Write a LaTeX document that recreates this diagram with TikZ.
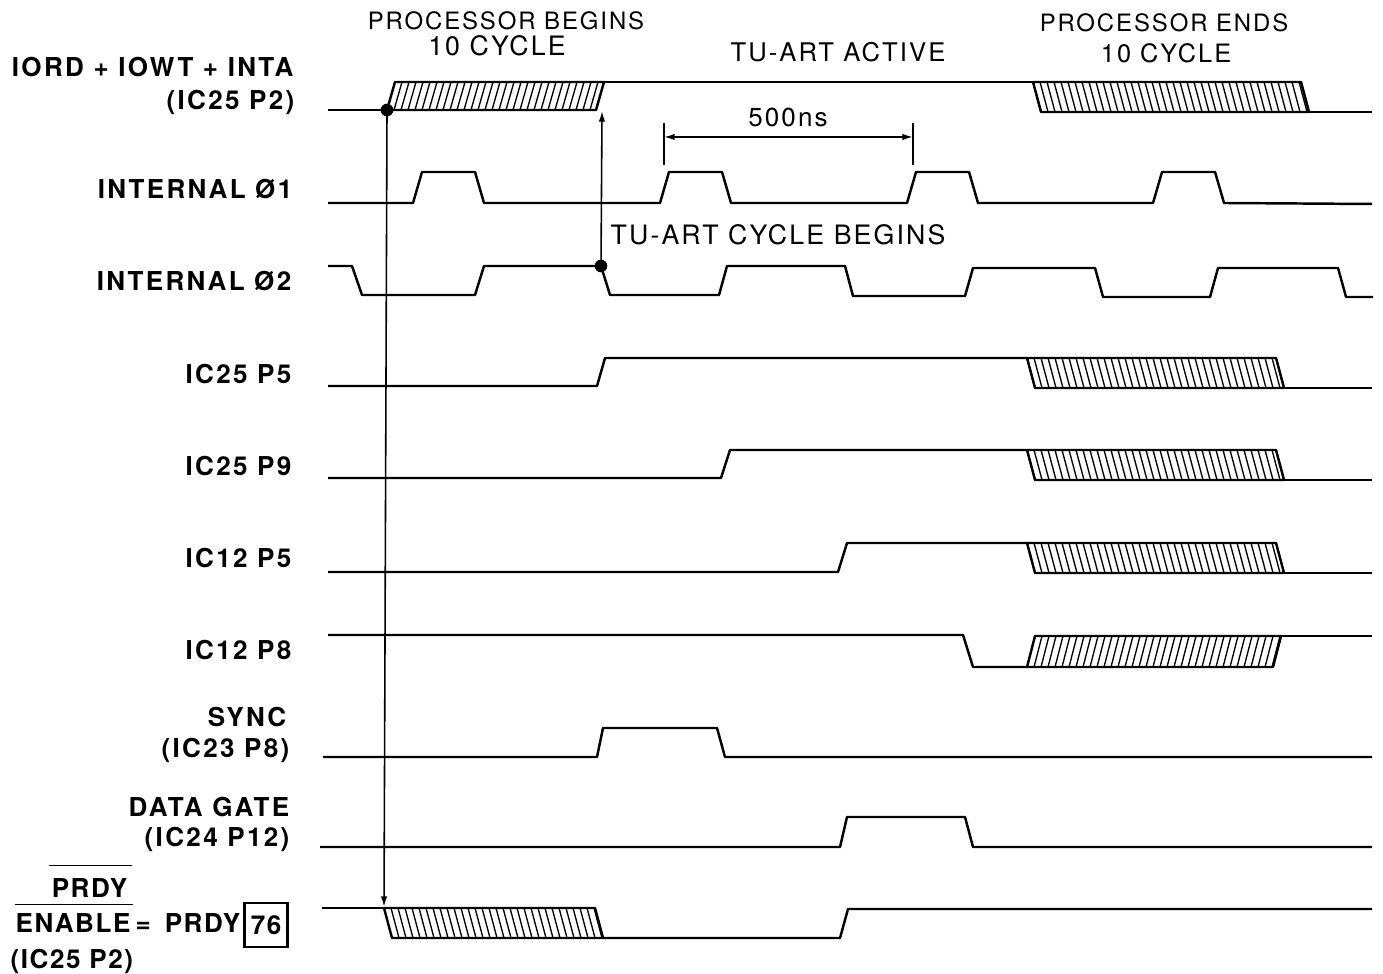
\documentclass[tikz,border=0pt]{standalone}
\usepackage{fontspec}
\setmainfont{TeX Gyre Heros}
\newfontfamily\labelfont[LetterSpace=9]{TeX Gyre Heros}
\newfontfamily\prdyfont[LetterSpace=6]{TeX Gyre Heros}
\newfontfamily\notefont[LetterSpace=8]{TeX Gyre Heros}
\usetikzlibrary{arrows.meta}

\tikzset{
  sig/.style={line width=0.7pt, line join=round},
  hatchline/.style={line width=0.38pt},
  guide/.style={line width=0.45pt},
  lbl/.style={font=\labelfont\bfseries\fontsize{7.4pt}{9pt}\selectfont, anchor=base east, inner sep=0pt},
  prdylbl/.style={font=\prdyfont\bfseries\fontsize{7.4pt}{9pt}\selectfont, anchor=base west, inner sep=0pt},
  note/.style={font=\notefont\fontsize{6.8pt}{8pt}\selectfont, anchor=base, inner sep=0pt},
  tip/.style={-{Latex[length=3pt,width=1.8pt]}}
}

% hatched slanted box: x from #1 to #2, lines run from y #3 to y #4
\newcommand{\hatchbox}[4]{%
  \draw[sig] (#1,#3) -- (#1+8,#4) -- (#2+8,#4) -- (#2,#3) -- cycle;
  \pgfmathsetmacro{\hfirst}{#1+7}
  \pgfmathsetmacro{\hsecond}{#1+14}
  \foreach \hx in {\hfirst,\hsecond,...,#2} \draw[hatchline] (\hx,#3) -- (\hx+8,#4);
}

\begin{document}
\begin{tikzpicture}[x=0.01cm,y=-0.01cm]
    \useasboundingbox (0,0) rectangle (1383,974);

    \node[note] (begins) at (506,30) {PROCESSOR BEGINS};
    \node[note,font=\notefont\fontsize{7.6pt}{8pt}\selectfont] (beginscyc) at (497,56) {10 CYCLE};
    \node[note,font=\notefont\fontsize{7.3pt}{8pt}\selectfont] (active) at (838,62) {TU-ART ACTIVE};
    \node[note] (ends) at (1164,32) {PROCESSOR ENDS};
    \node[note,font=\notefont\fontsize{7.2pt}{8pt}\selectfont] (endscyc) at (1166,63) {10 CYCLE};

    \node[lbl] (iord) at (294,77) {IORD + IOWT + INTA};
    \node[lbl] (iordpin) at (295,110) {(IC25 P2)};
    \node[lbl] (phione) at (293,199) {INTERNAL Ø1};
    \node[lbl] (phitwo) at (292,291) {INTERNAL Ø2};
    \node[lbl] (icfivea) at (292,384) {IC25 P5};
    \node[lbl] (icninea) at (292,476) {IC25 P9};
    \node[lbl] (icfiveb) at (292,568) {IC12 P5};
    \node[lbl] (iceightb) at (292,660) {IC12 P8};
    \node[lbl] (sync) at (287,727) {SYNC};
    \node[lbl] (syncpin) at (290,758) {(IC23 P8)};
    \node[lbl] (gate) at (290,816) {DATA GATE};
    \node[lbl] (gatepin) at (290,846) {(IC24 P12)};

    \node[prdylbl,anchor=base east] (prdybar) at (128,897) {PRDY};
    \node[prdylbl] (enable) at (15,932) {ENABLE};
    \node[prdylbl] (equals) at (135,932) {=};
    \node[prdylbl,anchor=base east] (eqprdy) at (241,932) {PRDY};
    \node[draw,line width=0.7pt,minimum width=0.43cm,minimum height=0.44cm,inner sep=0pt,
          font=\prdyfont\bfseries\fontsize{7.4pt}{9pt}\selectfont] (seventysix) at (266,925) {76};
    \node[prdylbl] (prdypin) at (10,968) {(IC25 P2)};
    \draw[guide] ([xshift=-0.02cm,yshift=0.12cm]prdybar.north west) -- ([xshift=0.04cm,yshift=0.12cm]prdybar.north east);
    \draw[guide] ([yshift=0.08cm]enable.north west) -- ([xshift=0.02cm,yshift=0.08cm]enable.north east);

    % IORD + IOWT + INTA
    \draw[sig] (328,110) -- (387,110);
    \hatchbox{387}{596}{110}{82}
    \draw[sig] (604,82) -- (1033,82);
    \hatchbox{1033}{1301}{82}{112}
    \draw[sig] (1309,112) -- (1372,112);

    % internal phases
    \draw[sig] (328,203) foreach \r in {413,660,907,1153} { -- (\r,203) -- (\r+9,172) -- (\r+62,172) -- (\r+71,203) } -- (1372,204);
    \draw[sig] (328,266) -- (352,266) -- (362,295) -- (475,295) -- (484,266) -- (601,266) -- (610,295)
        -- (719,295) -- (727,266) -- (845,266) -- (853,296) -- (965,296) -- (973,268) -- (1095,268)
        -- (1103,297) -- (1210,297) -- (1218,268) -- (1338,268) -- (1346,297) -- (1373,297);

    % IC25 / IC12
    \draw[sig] (328,386) -- (597,386) -- (605,358) -- (1027,358);
    \hatchbox{1027}{1276}{358}{388}
    \draw[sig] (1284,388) -- (1372,388);
    \draw[sig] (328,478) -- (721,478) -- (730,450) -- (1027,450);
    \hatchbox{1027}{1276}{450}{480}
    \draw[sig] (1284,480) -- (1372,480);
    \draw[sig] (328,572) -- (838,572) -- (847,543) -- (1027,543);
    \hatchbox{1027}{1276}{543}{573}
    \draw[sig] (1284,573) -- (1372,573);
    \draw[sig] (328,635) -- (963,635) -- (973,667) -- (1027,667);
    \hatchbox{1027}{1273}{667}{636}
    \draw[sig] (1281,636) -- (1372,636);

    % SYNC, DATA GATE
    \draw[sig] (323,757) -- (597,757) -- (603,728) -- (717,728) -- (725,757) -- (1372,757);
    \draw[sig] (320,847) -- (840,847) -- (847,817) -- (965,817) -- (973,847) -- (1372,847);

    % PRDY ENABLE
    \draw[sig] (322,908) -- (384,908);
    \hatchbox{384}{595}{908}{938}
    \draw[sig] (603,938) -- (840,938) -- (848,909) -- (1372,909);

    % timing marks
    \coordinate (startdot) at (387,110);
    \coordinate (prdytip) at (384,907);
    \coordinate (cycledot) at (601,266);
    \coordinate (cycletip) at (602,111);
    \fill (startdot) circle (1.8pt);
    \fill (cycledot) circle (1.8pt);
    \draw[guide,tip] (startdot) -- (prdytip);
    \draw[guide,tip] (cycledot) -- (cycletip);
    \node[note,anchor=base west,font=\notefont\fontsize{7.6pt}{9pt}\selectfont] (cyclebegins) at (610,245) {TU-ART CYCLE BEGINS};

    \coordinate (nsleft) at (664,137);
    \coordinate (nsright) at (913,137);
    \draw[guide] (664,123) -- (664,165);
    \draw[guide] (913,123) -- (913,165);
    \draw[guide,{Latex[length=3pt,width=1.8pt]}-{Latex[length=3pt,width=1.8pt]}] (nsleft) -- (nsright);
    \node[note,font=\notefont\fontsize{7.4pt}{9pt}\selectfont] (ns) at (788,127) {500ns};
\end{tikzpicture}
\end{document}
